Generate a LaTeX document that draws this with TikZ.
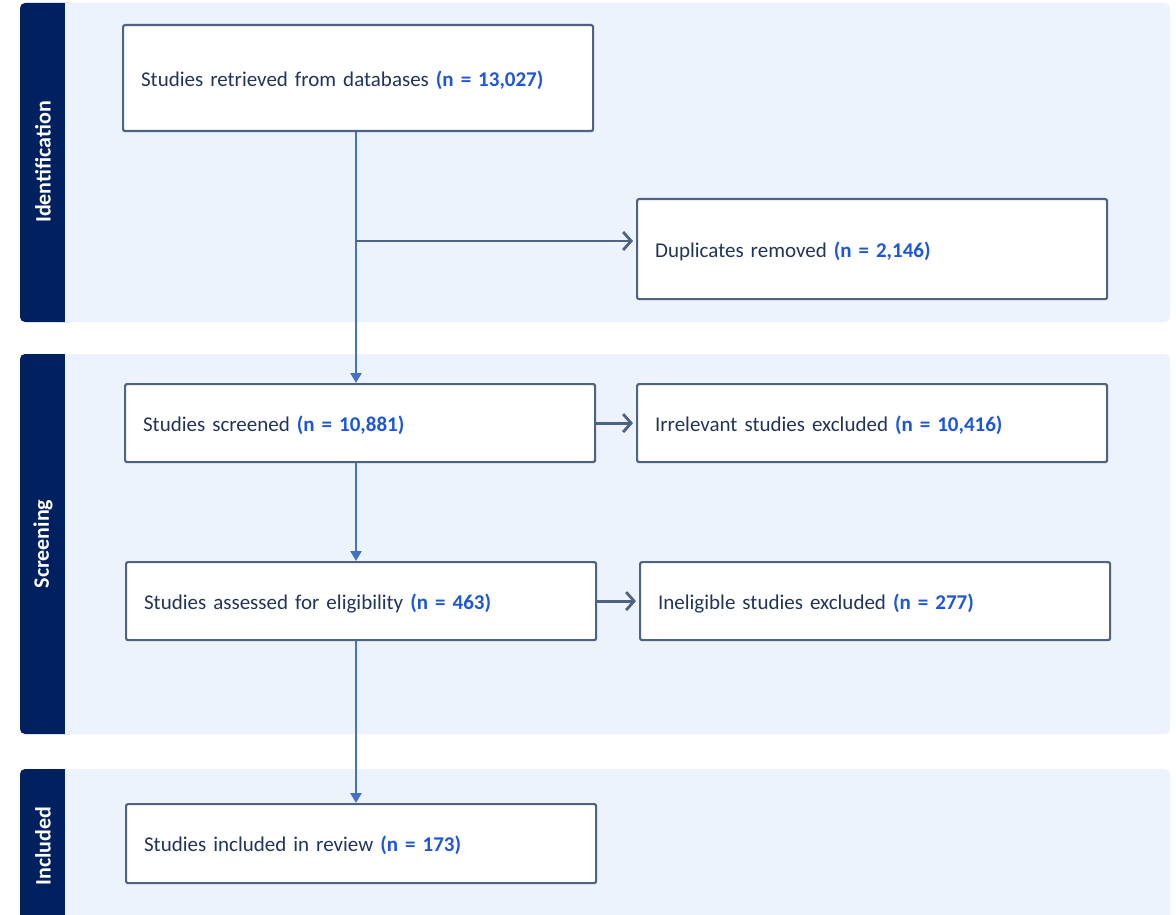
\documentclass[tikz,border=0pt]{standalone}
\usepackage{fontspec}
\setmainfont{Carlito}
\usetikzlibrary{arrows.meta}

\definecolor{navy}{HTML}{002060}
\definecolor{bandbg}{HTML}{EDF3FD}
\definecolor{boxline}{HTML}{4E6383}
\definecolor{arrowblue}{HTML}{4472C4}
\definecolor{textdark}{HTML}{22345A}
\definecolor{numblue}{HTML}{1D56D8}

\newcommand{\ncount}[1]{\textcolor{numblue}{\textbf{(n = #1)}}}

\begin{document}
\begin{tikzpicture}[x = 1pt, y = -1pt,
    band/.style = {fill = bandbg, rounded corners = 5pt},
    bar/.style = {fill = navy, rounded corners = 5pt},
    phase/.style = {rotate = 90, text = white, font = \fontsize{22}{26}\selectfont\bfseries},
    box/.style = {draw = boxline, line width = 2.2pt, fill = white, rounded corners = 2pt,
        minimum width = 470pt, text width = 434pt, align = left, inner xsep = 18pt,
        text height = 20pt, text depth = 4pt,
        anchor = north west, text = textdark, font = \fontsize{21}{25}\selectfont},
    down/.style = {draw = arrowblue, line width = 2.8pt, -{Triangle[length = 10pt, width = 11pt]}},
    side/.style = {draw = boxline, line width = 2.8pt, -{Straight Barb[length = 8pt, width = 18pt]}, shorten > = 3pt}]
    \clip (0,0) rectangle (1176,915);
    \fill[white] (0,0) rectangle (1176,915);

    % phase bands
    \fill[band] (20,3) rectangle (1170,322);
    \fill[bar] (20,3) rectangle (75,322);
    \fill[bandbg] (65,3) rectangle (80,322);
    \fill[band] (20,354) rectangle (1170,734);
    \fill[bar] (20,354) rectangle (75,734);
    \fill[bandbg] (65,354) rectangle (80,734);
    \fill[band] (20,769) rectangle (1170,930);
    \fill[bar] (20,769) rectangle (75,930);
    \fill[bandbg] (65,769) rectangle (80,930);
    \node[phase] (identification) at (43,162) {Identification};
    \node[phase] (screening) at (43,544) {Screening};
    \node[phase] (inclusion) at (43,846) {Included};

    % boxes
    \node[box, minimum height = 106pt] (retrieved) at (122,24) {Studies retrieved from databases \ncount{13,027}};
    \node[box, minimum height = 100pt] (duplicates) at (636,198) {Duplicates removed \ncount{2,146}};
    \node[box, minimum height = 78pt] (screened) at (124,383) {Studies screened \ncount{10,881}};
    \node[box, minimum height = 78pt] (irrelevant) at (636,383) {Irrelevant studies excluded \ncount{10,416}};
    \node[box, minimum height = 78pt] (eligible) at (125,561) {Studies assessed for eligibility \ncount{463}};
    \node[box, minimum height = 78pt] (ineligible) at (639,561) {Ineligible studies excluded \ncount{277}};
    \node[box, minimum height = 79pt] (included) at (125,803) {Studies included in review \ncount{173}};

    % arrows
    \coordinate (trunk) at (356,0);
    \coordinate (split) at (356,241);
    \draw[down] (retrieved.south -| trunk) -- (screened.north -| trunk);
    \draw[side] (split) -- (split -| duplicates.west);
    \draw[side] (screened) -- (irrelevant);
    \draw[down] (screened.south -| trunk) -- (eligible.north -| trunk);
    \draw[side] (eligible) -- (ineligible);
    \draw[down] (eligible.south -| trunk) -- (included.north -| trunk);
\end{tikzpicture}
\end{document}
